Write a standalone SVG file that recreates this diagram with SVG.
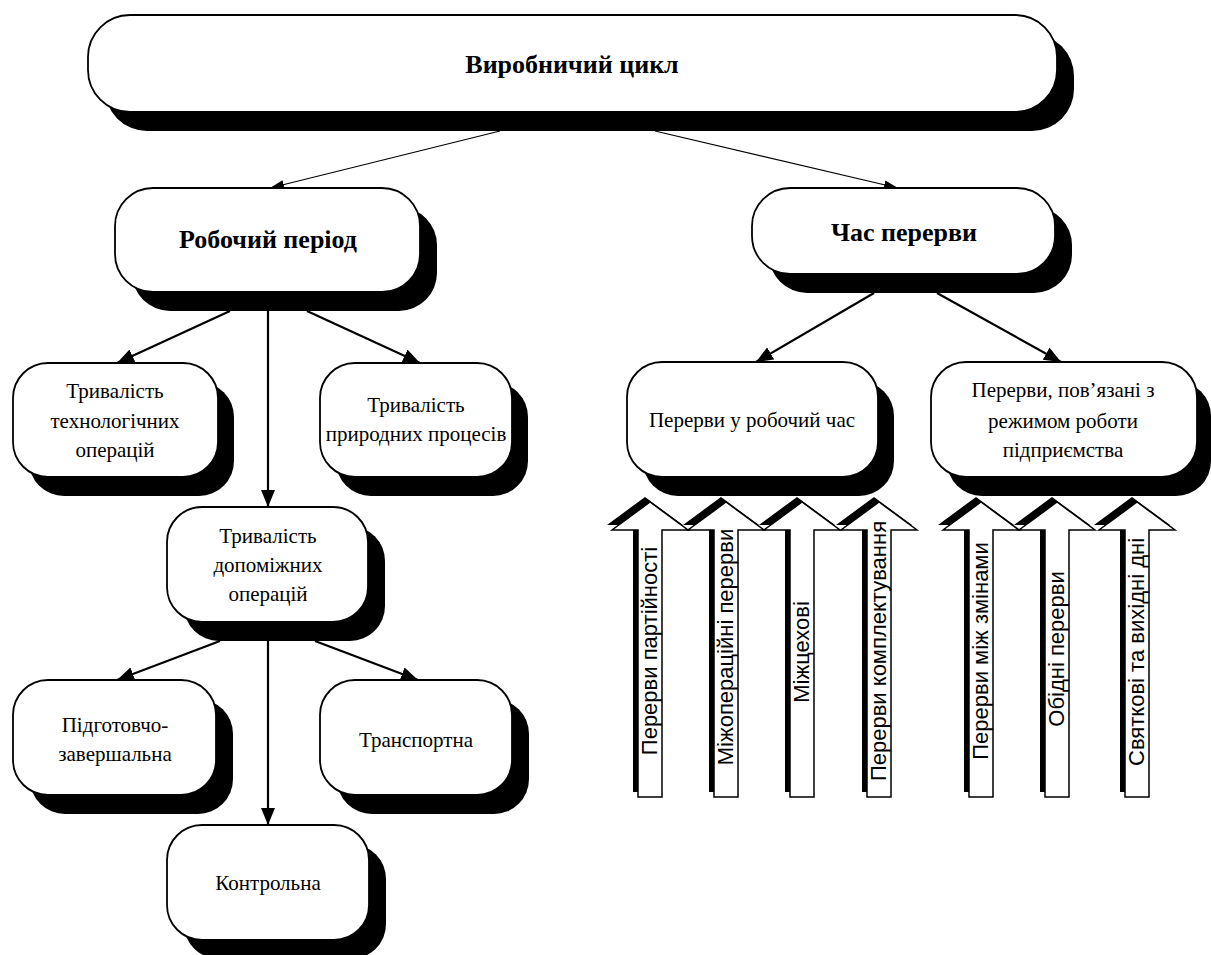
<svg xmlns="http://www.w3.org/2000/svg" xmlns:xlink="http://www.w3.org/1999/xlink" width="1211" height="955" viewBox="0 0 1211 955">
<style>
.sh{fill:#000}
.box{fill:#fff;stroke:#000;stroke-width:1.8}
.t{font-family:"Liberation Serif","Times New Roman",serif;font-size:21px;text-anchor:middle;fill:#000}
.b{font-weight:bold;font-size:26px}
.thin{stroke:#000;stroke-width:1.1;fill:none}
.thick{stroke:#000;stroke-width:2.2;fill:none}
.bs{fill:#000}
.bw{fill:#fff;stroke:#000;stroke-width:1.5}
.at{font-family:"Liberation Sans",Arial,sans-serif;font-size:22px;text-anchor:middle;fill:#000}
</style>
<defs>
<marker id="ms" markerUnits="userSpaceOnUse" markerWidth="16" markerHeight="10" refX="14" refY="4.5" orient="auto"><path d="M0,0 L14,4.5 L0,9 Z" fill="#000"/></marker>
<marker id="mt" markerUnits="userSpaceOnUse" markerWidth="18" markerHeight="16" refX="17" refY="7" orient="auto"><path d="M0,0 L17,7 L0,14 Z" fill="#000"/></marker>
<path id="blk" d="M0,0 L38,28 L12,28 L12,295 L-12,295 L-12,28 L-38,28 Z"/>
</defs>

<g id="connectors">
<line class="thin" x1="500" y1="131" x2="270" y2="188" marker-end="url(#ms)"/>
<line class="thin" x1="655" y1="131" x2="898" y2="188" marker-end="url(#ms)"/>
<line class="thick" x1="230" y1="311" x2="117" y2="363" marker-end="url(#mt)"/>
<line class="thick" x1="268" y1="311" x2="268" y2="507" marker-end="url(#mt)"/>
<line class="thick" x1="307" y1="311" x2="420" y2="363" marker-end="url(#mt)"/>
<line class="thick" x1="874" y1="293" x2="756" y2="362" marker-end="url(#mt)"/>
<line class="thick" x1="937" y1="293" x2="1061" y2="362" marker-end="url(#mt)"/>
<line class="thick" x1="220" y1="641" x2="117" y2="680" marker-end="url(#mt)"/>
<line class="thick" x1="268" y1="641" x2="268" y2="825" marker-end="url(#mt)"/>
<line class="thick" x1="315" y1="641" x2="418" y2="680" marker-end="url(#mt)"/>
</g>

<g id="n-cycle">
<rect class="sh" x="105" y="34" width="969" height="97" rx="42"/>
<rect class="box" x="88" y="15" width="969" height="97" rx="42"/>
<text class="t b" x="572" y="73">Виробничий цикл</text>
</g>

<g id="n-work">
<rect class="sh" x="132" y="207" width="305" height="104" rx="38"/>
<rect class="box" x="115" y="188" width="305" height="104" rx="38"/>
<text class="t b" x="268" y="248">Робочий період</text>
</g>

<g id="n-break">
<rect class="sh" x="769" y="207" width="303" height="86" rx="38"/>
<rect class="box" x="752" y="188" width="303" height="86" rx="38"/>
<text class="t b" x="904" y="241">Час перерви</text>
</g>

<g id="n-tech">
<rect class="sh" x="29" y="382" width="205" height="114" rx="35"/>
<rect class="box" x="13" y="363" width="205" height="114" rx="35"/>
<text class="t" x="115" y="398">Тривалість</text>
<text class="t" x="115" y="428">технологічних</text>
<text class="t" x="115" y="457">операцій</text>
</g>

<g id="n-nat">
<rect class="sh" x="336" y="382" width="192" height="114" rx="35"/>
<rect class="box" x="320" y="363" width="192" height="114" rx="35"/>
<text class="t" x="416" y="412">Тривалість</text>
<text class="t" x="416" y="441">природних процесів</text>
</g>

<g id="n-wbreak">
<rect class="sh" x="643" y="381" width="251" height="115" rx="35"/>
<rect class="box" x="627" y="362" width="251" height="115" rx="35"/>
<text class="t" x="752" y="427">Перерви у робочий час</text>
</g>

<g id="n-mode">
<rect class="sh" x="947" y="381" width="264" height="115" rx="35"/>
<rect class="box" x="931" y="362" width="266" height="115" rx="35"/>
<text class="t" x="1063" y="397">Перерви, пов’язані з</text>
<text class="t" x="1063" y="428">режимом роботи</text>
<text class="t" x="1063" y="457">підприємства</text>
</g>

<g id="n-aux">
<rect class="sh" x="184" y="526" width="201" height="115" rx="35"/>
<rect class="box" x="167" y="507" width="201" height="115" rx="35"/>
<text class="t" x="268" y="543">Тривалість</text>
<text class="t" x="268" y="572">допоміжних</text>
<text class="t" x="268" y="601">операцій</text>
</g>

<g id="n-prep">
<rect class="sh" x="30" y="699" width="203" height="115" rx="35"/>
<rect class="box" x="13" y="680" width="203" height="115" rx="35"/>
<text class="t" x="115" y="732">Підготовчо-</text>
<text class="t" x="115" y="761">завершальна</text>
</g>

<g id="n-trans">
<rect class="sh" x="337" y="699" width="192" height="115" rx="35"/>
<rect class="box" x="320" y="680" width="192" height="115" rx="35"/>
<text class="t" x="416" y="747">Транспортна</text>
</g>

<g id="n-ctrl">
<rect class="sh" x="184" y="844" width="202" height="115" rx="35"/>
<rect class="box" x="167" y="825" width="202" height="115" rx="35"/>
<text class="t" x="268" y="890">Контрольна</text>
</g>

<g id="a1">
<use xlink:href="#blk" class="bs" transform="translate(645,497)"/>
<use xlink:href="#blk" class="bw" transform="translate(650,502)"/>
<text class="at" transform="translate(657,651) rotate(-90)">Перерви партійності</text>
</g>
<g id="a2">
<use xlink:href="#blk" class="bs" transform="translate(721,497)"/>
<use xlink:href="#blk" class="bw" transform="translate(726,502)"/>
<text class="at" transform="translate(733,647) rotate(-90)">Міжопераційні перерви</text>
</g>
<g id="a3">
<use xlink:href="#blk" class="bs" transform="translate(797,497)"/>
<use xlink:href="#blk" class="bw" transform="translate(802,502)"/>
<text class="at" transform="translate(809,652) rotate(-90)">Міжцехові</text>
</g>
<g id="a4">
<use xlink:href="#blk" class="bs" transform="translate(874,497)"/>
<use xlink:href="#blk" class="bw" transform="translate(879,502)"/>
<text class="at" transform="translate(886,651) rotate(-90)">Перерви комплектування</text>
</g>
<g id="a5">
<use xlink:href="#blk" class="bs" transform="translate(976,497)"/>
<use xlink:href="#blk" class="bw" transform="translate(981,502)"/>
<text class="at" transform="translate(988,651) rotate(-90)">Перерви між змінами</text>
</g>
<g id="a6">
<use xlink:href="#blk" class="bs" transform="translate(1052,497)"/>
<use xlink:href="#blk" class="bw" transform="translate(1057,502)"/>
<text class="at" transform="translate(1064,649) rotate(-90)">Обідні перерви</text>
</g>
<g id="a7">
<use xlink:href="#blk" class="bs" transform="translate(1132,497)"/>
<use xlink:href="#blk" class="bw" transform="translate(1137,502)"/>
<text class="at" transform="translate(1144,652) rotate(-90)">Святкові та вихідні дні</text>
</g>
</svg>
